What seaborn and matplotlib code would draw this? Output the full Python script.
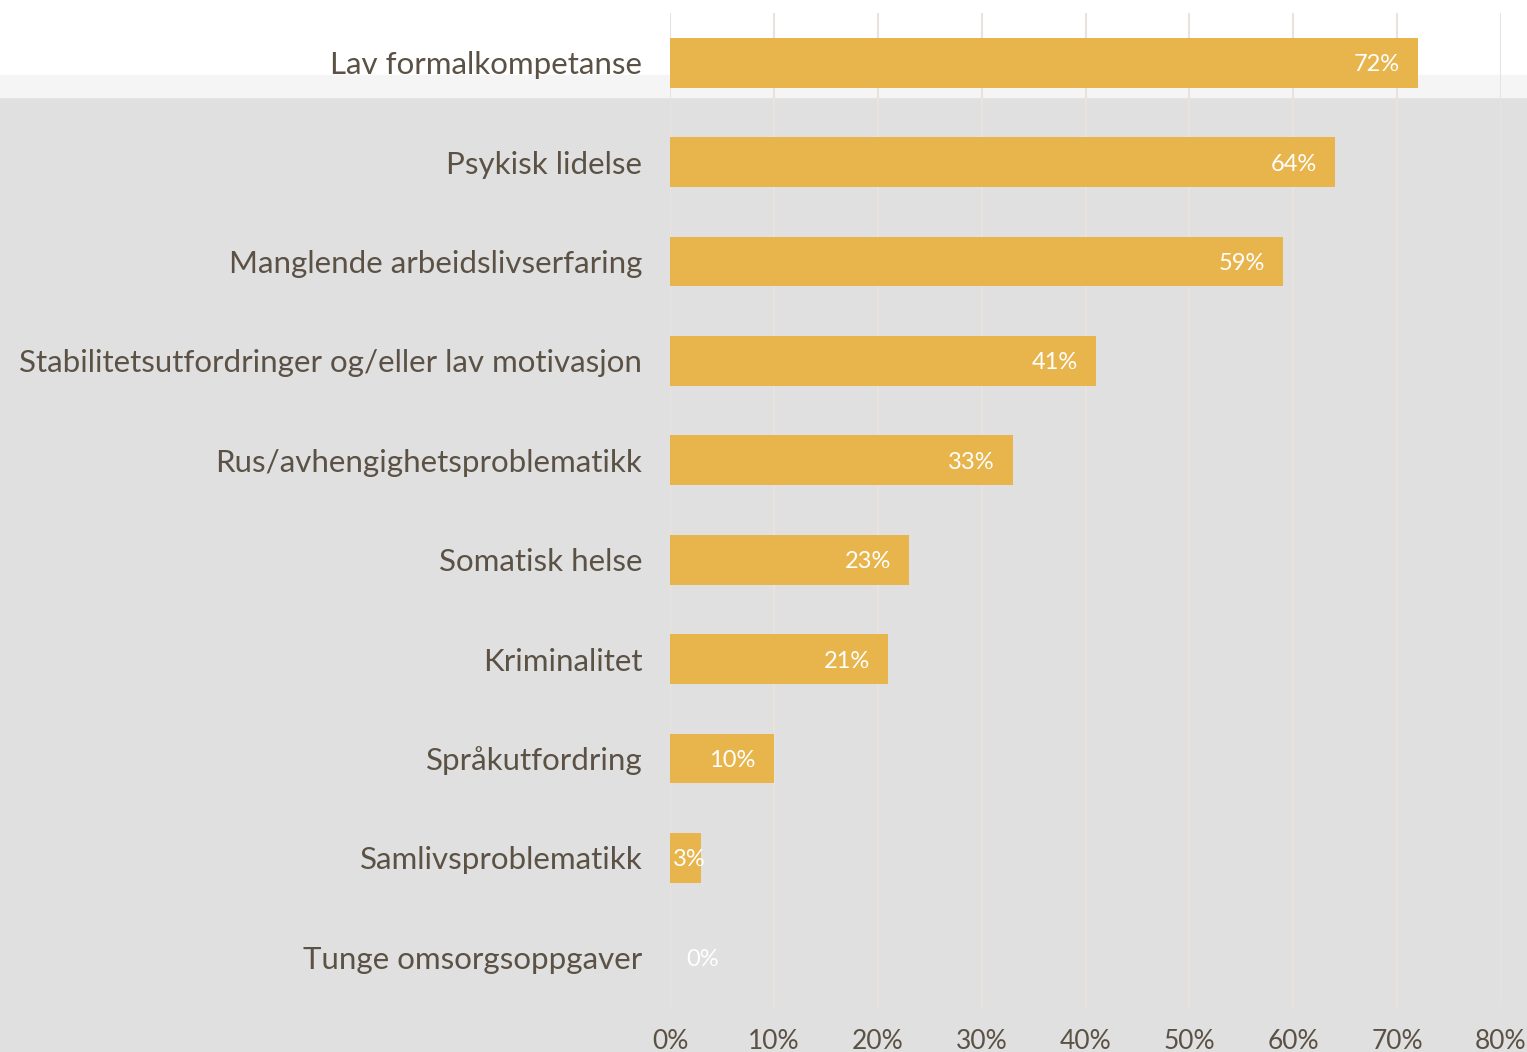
import matplotlib
matplotlib.use("Agg")
import matplotlib.pyplot as plt
import pandas as pd
import seaborn as sns
from matplotlib.patches import Rectangle

# Data
categories = [
    "Lav formalkompetanse",
    "Psykisk lidelse",
    "Manglende arbeidslivserfaring",
    "Stabilitetsutfordringer og/eller lav motivasjon",
    "Rus/avhengighetsproblematikk",
    "Somatisk helse",
    "Kriminalitet",
    "Språkutfordring",
    "Samlivsproblematikk",
    "Tunge omsorgsoppgaver",
]
values = [72, 64, 59, 41, 33, 23, 21, 10, 3, 0]
x_ticks = [0, 10, 20, 30, 40, 50, 60, 70, 80]

BAR = "#E8B54D"
TEXT = "#5B5145"
GRID = "#E9E2DD"

df = pd.DataFrame({"kategori": categories, "andel": values})

sns.set_theme(style="white")
plt.rcParams["font.family"] = ["Lato", "DejaVu Sans"]

fig = plt.figure(figsize=(15.27, 10.52), dpi=100)

# background: white top, light strip, grey body
fig.patches.append(Rectangle((0, 0), 1, 1 - 97 / 1052, transform=fig.transFigure,
                             color="#E0E0E0", zorder=-10))
fig.patches.append(Rectangle((0, 1 - 97 / 1052), 1, 22 / 1052, transform=fig.transFigure,
                             color="#F5F5F5", zorder=-10))

ax = fig.add_axes([670 / 1527, 1 - 1007 / 1052, 831 / 1527, 994 / 1052])
ax.patch.set_alpha(0)

sns.barplot(data=df, x="andel", y="kategori", color=BAR, width=0.5,
            saturation=1, linewidth=0, ax=ax, zorder=3)

ax.set_xlim(0, 80)
ax.set_xticks(x_ticks)
ax.set_xticklabels([f"{t}%" for t in x_ticks], fontsize=19, color=TEXT)
ax.tick_params(axis="y", labelsize=22.5, labelcolor=TEXT, length=0, pad=20)
ax.tick_params(axis="x", length=0, pad=16)
ax.set_xlabel("")
ax.set_ylabel("")
ax.grid(axis="x", color=GRID, linewidth=1.5, zorder=0)
for s in ax.spines.values():
    s.set_visible(False)

for i, v in enumerate(values):
    if v >= 5:
        ax.annotate(f"{v}%", (v, i), xytext=(-13, 0), textcoords="offset points",
                    ha="right", va="center_baseline", color="white", fontsize=17)
    else:
        off = 2 if v > 0 else 12
        ax.annotate(f"{v}%", (0, i), xytext=(off, 0), textcoords="offset points",
                    ha="left", va="center_baseline", color="white", fontsize=17)

fig.savefig("out.png", dpi=100)
